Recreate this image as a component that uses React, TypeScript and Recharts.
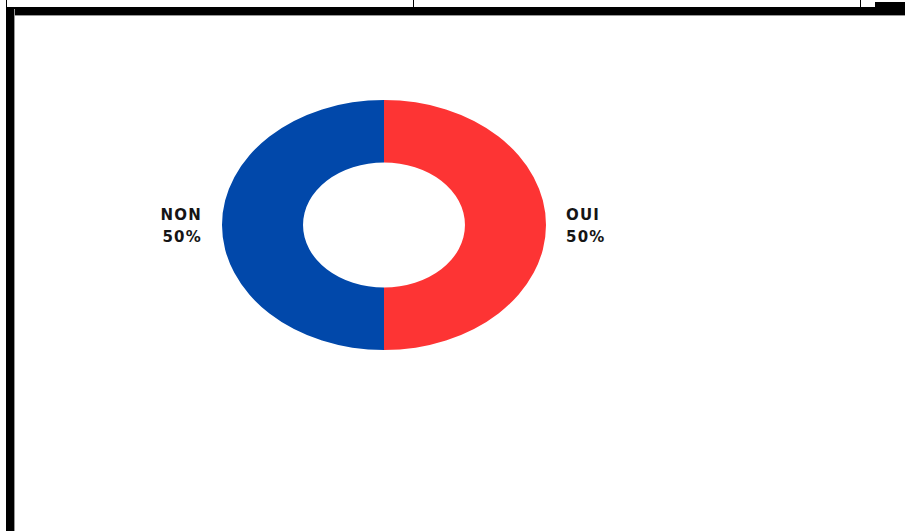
import { PieChart, Pie, Cell } from 'recharts';

// Données du graphique (réponses OUI / NON)
const labels = ['OUI', 'NON'];
const values = [50, 50];
const colors = ['#fd3434', '#0148aa'];

const SCALE_Y = 0.772; // la couronne est écrasée verticalement (ellipse)
const RADIAN = Math.PI / 180;

const data = labels.map((name, i) => ({ name, value: values[i] }));

function renderLabel(props: any) {
  const { cx, cy, midAngle, outerRadius, name, percent } = props;
  const r = outerRadius + 20;
  const x = cx + r * Math.cos(-midAngle * RADIAN);
  const y = cy + r * Math.sin(-midAngle * RADIAN);
  const anchor = x > cx ? 'start' : 'end';
  return (
    <g transform={`translate(${x},${y}) scale(1,${1 / SCALE_Y})`}>
      <text
        textAnchor={anchor}
        fontFamily="'DejaVu Sans', sans-serif"
        fontWeight={700}
        fontSize={15}
        letterSpacing={1.2}
        fill="#151515"
      >
        <tspan x={0} y={-5}>{name}</tspan>
        <tspan x={0} y={17}>{`${Math.round(percent * 100)}%`}</tspan>
      </text>
    </g>
  );
}

export default function App() {
  return (
    <div
      style={{
        position: 'fixed',
        left: 0,
        top: 0,
        width: 905,
        height: 531,
        background: '#fff',
        overflow: 'hidden',
      }}
    >
      {/* cadre du document */}
      <div style={{ position: 'absolute', left: 6, top: 0, width: 1, height: 8, background: '#000' }} />
      <div style={{ position: 'absolute', left: 413, top: 0, width: 1, height: 8, background: '#000' }} />
      <div style={{ position: 'absolute', left: 860, top: 0, width: 1, height: 8, background: '#000' }} />
      <div style={{ position: 'absolute', left: 875, top: 2, width: 30, height: 8, background: '#000' }} />
      <div style={{ position: 'absolute', left: 6, top: 7, width: 899, height: 8, background: '#000', borderBottom: '1px solid #999' }} />
      <div style={{ position: 'absolute', left: 6, top: 9, width: 8, height: 522, background: '#000', borderRight: '1px solid #999' }} />

      <div
        style={{
          position: 'absolute',
          left: 84,
          top: 55,
          width: 600,
          height: 340,
          transform: `scaleY(${SCALE_Y})`,
          transformOrigin: '300px 170px',
        }}
      >
        <PieChart width={600} height={340} margin={{ top: 0, right: 0, bottom: 0, left: 0 }}>
          <Pie
            data={data}
            dataKey="value"
            nameKey="name"
            cx={300}
            cy={170}
            outerRadius={162}
            innerRadius={81}
            startAngle={90}
            endAngle={-270}
            stroke="none"
            label={renderLabel}
            labelLine={false}
            isAnimationActive={false}
          >
            {data.map((d, i) => (
              <Cell key={d.name} fill={colors[i]} />
            ))}
          </Pie>
        </PieChart>
      </div>
    </div>
  );
}
